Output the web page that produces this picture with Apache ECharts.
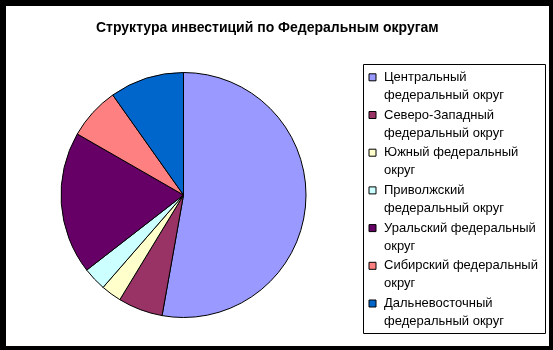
<!DOCTYPE html>
<html><head><meta charset="utf-8">
<script src="https://cdn.jsdelivr.net/npm/echarts@6/dist/echarts.min.js"></script>
<style>
html,body{margin:0;padding:0;background:#000;width:553px;height:350px;overflow:hidden}
#c{position:absolute;left:6px;top:6px;width:543px;height:340px;background:#fff}
</style></head>
<body><div id="c"></div>
<script>
const titleText = 'Структура инвестиций по Федеральным округам';
const categories = ['Центральный федеральный округ','Северо-Западный федеральный округ','Южный федеральный округ','Приволжский федеральный округ','Уральский федеральный округ','Сибирский федеральный округ','Дальневосточный федеральный округ'];
const legendLabels = ['Центральный\nфедеральный округ','Северо-Западный\nфедеральный округ','Южный федеральный\nокруг','Приволжский\nфедеральный округ','Уральский федеральный\nокруг','Сибирский федеральный\nокруг','Дальневосточный\nфедеральный округ'];
const values = [52.8, 5.9, 2.7, 3.1, 18.8, 6.9, 9.8];
const colors = ['#9999FF','#993366','#FFFFCC','#CCFFFF','#660066','#FF8080','#0066CC'];

const chart = echarts.init(document.getElementById('c'), null, {renderer:'canvas'});
chart.setOption({
  animation:false,
  color: colors,
  title:{text:titleText,left:85,top:10,textStyle:{fontFamily:'Liberation Sans, Arial',fontSize:14,fontWeight:'bold',color:'#000'}},
  graphic:[{type:'rect',shape:{x:357.5,y:58.5,width:182,height:269},style:{fill:'none',stroke:'#000',lineWidth:1},silent:true}],
  legend:{
    orient:'vertical', left:362.5, top:44.3, padding:0,
    itemWidth:7,itemHeight:7,itemGap:-16.3,icon:'rect',
    itemStyle:{borderColor:'#000',borderWidth:1},
    formatter:function(n){return '\n' + legendLabels[categories.indexOf(n)];},
    textStyle:{fontFamily:'Liberation Sans, Arial',fontSize:13,color:'#000',lineHeight:18,padding:[0,0,0,3]},
    selectedMode:false
  },
  series:[{
    type:'pie', radius:122.5, center:[177.5,189], startAngle:90, clockwise:true,
    label:{show:false}, labelLine:{show:false}, emphasis:{disabled:true},
    itemStyle:{borderColor:'#000',borderWidth:1},
    data: categories.map((c,i)=>({name:c,value:values[i]}))
  }]
});
</script></body></html>
